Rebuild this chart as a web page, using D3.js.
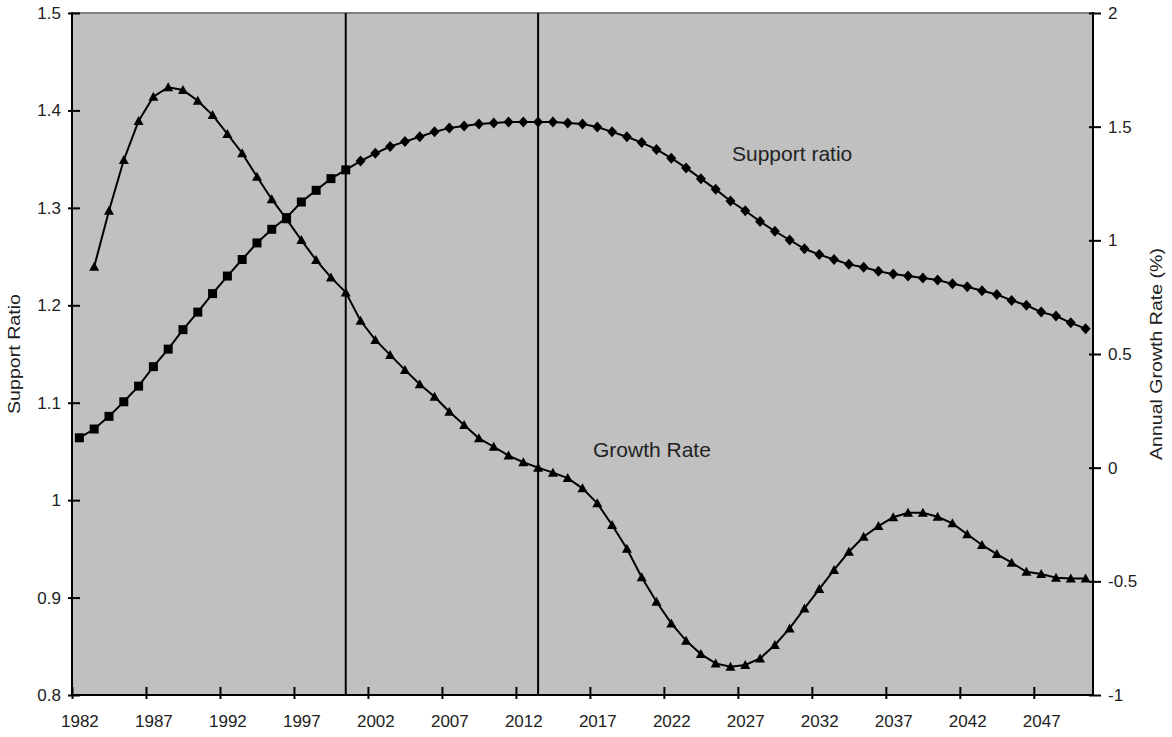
<!DOCTYPE html>
<html>
<head>
<meta charset="utf-8">
<script src="https://cdn.jsdelivr.net/npm/d3@7"></script>
<style>
  body { margin: 0; background: #fff; }
  svg { display: block; font-family: "Liberation Sans", Arial, sans-serif; }
</style>
</head>
<body>
<svg id="chart" width="1172" height="737"></svg>
<script>
// Categories: one per year
const years = [1982, 1983, 1984, 1985, 1986, 1987, 1988, 1989, 1990, 1991,
  1992, 1993, 1994, 1995, 1996, 1997, 1998, 1999, 2000, 2001,
  2002, 2003, 2004, 2005, 2006, 2007, 2008, 2009, 2010, 2011,
  2012, 2013, 2014, 2015, 2016, 2017, 2018, 2019, 2020, 2021,
  2022, 2023, 2024, 2025, 2026, 2027, 2028, 2029, 2030, 2031,
  2032, 2033, 2034, 2035, 2036, 2037, 2038, 2039, 2040, 2041,
  2042, 2043, 2044, 2045, 2046, 2047, 2048, 2049, 2050];

// Support ratio, 1982-2050 (left axis)
const supportRatio = [1.064, 1.073, 1.086, 1.101, 1.117, 1.137, 1.155, 1.175, 1.193, 1.212,
  1.230, 1.247, 1.264, 1.278, 1.290, 1.306, 1.318, 1.330, 1.339, 1.348,
  1.356, 1.363, 1.368, 1.373, 1.378, 1.382, 1.384, 1.386, 1.387, 1.388,
  1.388, 1.388, 1.388, 1.387, 1.386, 1.383, 1.378, 1.373, 1.367, 1.360,
  1.351, 1.341, 1.330, 1.319, 1.307, 1.297, 1.286, 1.276, 1.267, 1.258,
  1.252, 1.247, 1.242, 1.239, 1.235, 1.232, 1.230, 1.228, 1.226, 1.222,
  1.219, 1.215, 1.211, 1.205, 1.200, 1.193, 1.189, 1.182, 1.176];

// Annual growth rate (%), 1983-2050 (right axis)
const growthYears = years.slice(1);
const growthRate = [0.884, 1.130, 1.353, 1.525, 1.632, 1.673, 1.661, 1.614, 1.551,
  1.468, 1.383, 1.280, 1.181, 1.093, 1.001, 0.913, 0.837, 0.771, 0.646,
  0.562, 0.496, 0.430, 0.367, 0.312, 0.246, 0.188, 0.129, 0.092, 0.053,
  0.024, 0.000, -0.022, -0.046, -0.091, -0.157, -0.252, -0.357, -0.482, -0.590,
  -0.685, -0.761, -0.820, -0.861, -0.876, -0.868, -0.839, -0.780, -0.707, -0.619,
  -0.534, -0.450, -0.370, -0.304, -0.257, -0.218, -0.198, -0.198, -0.216, -0.245,
  -0.293, -0.340, -0.380, -0.418, -0.458, -0.468, -0.484, -0.487, -0.487];

// Last year drawn with square markers; later years use diamonds
const lastObservedYear = 2000;
// Years marked with vertical reference lines
const referenceYears = [2000, 2013];

const leftTicks = [0.8, 0.9, 1.0, 1.1, 1.2, 1.3, 1.4, 1.5];
const rightTicks = [-1, -0.5, 0, 0.5, 1, 1.5, 2];
const yearTicks = [1982, 1987, 1992, 1997, 2002, 2007, 2012, 2017, 2022, 2027, 2032, 2037, 2042, 2047];

const plot = { left: 72, right: 1093, top: 13, bottom: 695 };
const svg = d3.select("#chart");

const x = d3.scaleBand().domain(years).range([plot.left, plot.right]).padding(0);
const cx = yr => x(yr) + x.bandwidth() / 2;
const yL = d3.scaleLinear().domain([0.8, 1.5]).range([plot.bottom, plot.top]);
const yR = d3.scaleLinear().domain([-1, 2]).range([plot.bottom, plot.top]);

// Plot area
svg.append("rect")
  .attr("x", plot.left).attr("y", plot.top)
  .attr("width", plot.right - plot.left).attr("height", plot.bottom - plot.top)
  .attr("fill", "#c0c0c0");
svg.append("line")
  .attr("x1", plot.left).attr("x2", plot.right)
  .attr("y1", plot.top).attr("y2", plot.top)
  .attr("stroke", "#808080").attr("stroke-width", 2);

// Reference lines
svg.append("g").selectAll("line").data(referenceYears).join("line")
  .attr("x1", d => cx(d)).attr("x2", d => cx(d))
  .attr("y1", plot.top).attr("y2", plot.bottom)
  .attr("stroke", "#000").attr("stroke-width", 2);

const tickFont = 17;
const fmt = d => String(+d.toFixed(1));

// Left axis
const gL = svg.append("g").attr("transform", `translate(${plot.left},0)`)
  .call(d3.axisLeft(yL).tickValues(leftTicks).tickFormat(fmt).tickSizeOuter(0));
gL.select(".domain").remove();
gL.selectAll(".tick line").attr("x1", 8).attr("x2", -4).attr("stroke", "#000").attr("stroke-width", 2);
gL.selectAll(".tick text").attr("x", -11).attr("font-size", tickFont).attr("fill", "#222").attr("font-family", null);

// Right axis
const gR = svg.append("g").attr("transform", `translate(${plot.right},0)`)
  .call(d3.axisRight(yR).tickValues(rightTicks).tickFormat(fmt).tickSizeOuter(0));
gR.select(".domain").remove();
gR.selectAll(".tick line").attr("x1", -4).attr("x2", 8).attr("stroke", "#000").attr("stroke-width", 2);
gR.selectAll(".tick text").attr("x", 15).attr("font-size", tickFont).attr("fill", "#222").attr("font-family", null);

// Bottom axis: ticks on category boundaries, labels centred on the category
const xEdge = d3.scaleLinear().domain([years[0], years[years.length - 1] + 1]).range([plot.left, plot.right]);
const gB = svg.append("g").attr("transform", `translate(0,${plot.bottom})`)
  .call(d3.axisBottom(xEdge).tickValues(yearTicks).tickFormat(d3.format("d")).tickSizeOuter(0));
gB.select(".domain").remove();
gB.selectAll(".tick line").attr("y1", -8).attr("y2", 4).attr("stroke", "#000").attr("stroke-width", 2);
gB.selectAll(".tick text").attr("x", x.bandwidth() / 2).attr("y", 20)
  .attr("font-size", tickFont).attr("fill", "#222").attr("font-family", null);

// Axis lines
const axisLines = [
  [plot.left, plot.top, plot.left, plot.bottom],
  [plot.right, plot.top, plot.right, plot.bottom],
  [plot.left, plot.bottom, plot.right, plot.bottom]
];
svg.append("g").selectAll("line").data(axisLines).join("line")
  .attr("x1", d => d[0]).attr("y1", d => d[1]).attr("x2", d => d[2]).attr("y2", d => d[3])
  .attr("stroke", "#000").attr("stroke-width", 2).attr("stroke-linecap", "square");

// Series
const supportData = years.map((yr, i) => ({ yr, v: supportRatio[i] }));
const growthData = growthYears.map((yr, i) => ({ yr, v: growthRate[i] }));

svg.append("path").datum(supportData)
  .attr("fill", "none").attr("stroke", "#000").attr("stroke-width", 2)
  .attr("d", d3.line().x(d => cx(d.yr)).y(d => yL(d.v)));
svg.append("path").datum(growthData)
  .attr("fill", "none").attr("stroke", "#000").attr("stroke-width", 2)
  .attr("d", d3.line().x(d => cx(d.yr)).y(d => yR(d.v)));

const squarePath = "M-4.5,-4.5H4.5V4.5H-4.5Z";
const diamondPath = "M0,-5.5L5,0L0,5.5L-5,0Z";
const trianglePath = "M0,-5L5,4L-5,4Z";

svg.append("g").selectAll("path").data(supportData).join("path")
  .attr("transform", d => `translate(${cx(d.yr)},${yL(d.v)})`)
  .attr("d", d => d.yr <= lastObservedYear ? squarePath : diamondPath)
  .attr("fill", "#000");
svg.append("g").selectAll("path").data(growthData).join("path")
  .attr("transform", d => `translate(${cx(d.yr)},${yR(d.v)})`)
  .attr("d", trianglePath)
  .attr("fill", "#000");

// Series labels
svg.append("text").attr("x", 732).attr("y", 161).attr("font-size", 21).attr("fill", "#222")
  .text("Support ratio");
svg.append("text").attr("x", 593).attr("y", 457).attr("font-size", 21).attr("fill", "#222")
  .text("Growth Rate");

// Axis titles
const midY = (plot.top + plot.bottom) / 2;
svg.append("text")
  .attr("transform", `translate(20,${midY}) rotate(-90)`)
  .attr("text-anchor", "middle").attr("font-size", 17).attr("fill", "#222")
  .attr("textLength", 120).attr("lengthAdjust", "spacingAndGlyphs")
  .text("Support Ratio");
svg.append("text")
  .attr("transform", `translate(1162,${midY}) rotate(-90)`)
  .attr("text-anchor", "middle").attr("font-size", 17).attr("fill", "#222")
  .attr("textLength", 212).attr("lengthAdjust", "spacingAndGlyphs")
  .text("Annual Growth Rate (%)");
</script>
</body>
</html>
